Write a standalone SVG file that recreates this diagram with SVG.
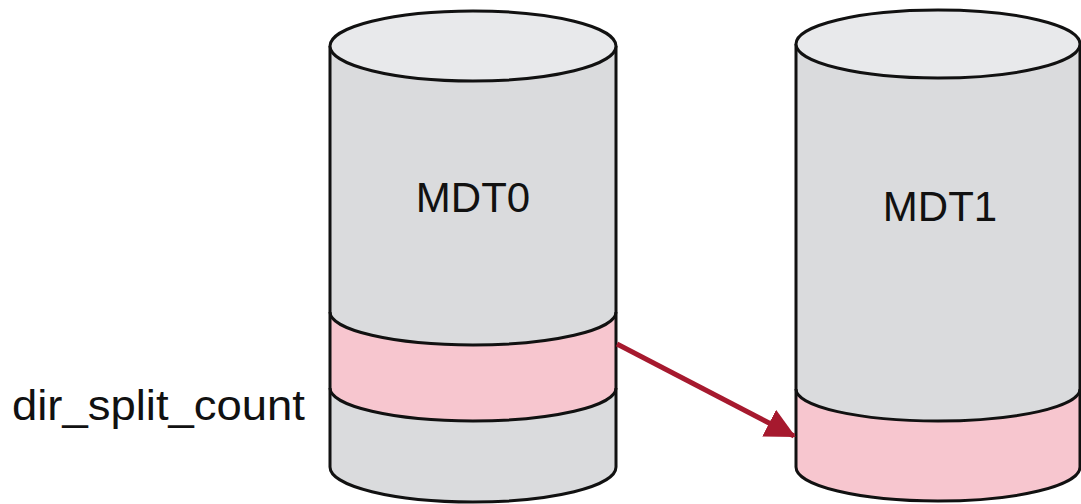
<svg xmlns="http://www.w3.org/2000/svg" width="1081" height="504" viewBox="0 0 1081 504">
  <style>
    .side { fill: #dadbdd; stroke: none; }
    .top { fill: #e8e9eb; stroke: #111; stroke-width: 3; }
    .band { fill: #f7c6cf; stroke: none; }
    .edge { fill: none; stroke: #111; stroke-width: 3; }
    .lbl { font-family: "Liberation Sans", Arial, sans-serif; fill: #111; }
    .link { stroke: #a6192e; stroke-width: 5; fill: none; }
  </style>
  <defs>
    <marker id="head" markerWidth="6" markerHeight="6" refX="5.6" refY="3" orient="auto" markerUnits="strokeWidth">
      <path d="M0,0 L6,3 L0,6 Z" fill="#a6192e"/>
    </marker>
  </defs>

  <!-- MDT0 cylinder -->
  <g id="mdt0">
    <path class="side" d="M330,46 L330,467 A143,35 0 0 0 616,467 L616,46 Z"/>
    <path class="band" d="M330,312 A143,33 0 0 0 616,312 L616,388 A143,33 0 0 1 330,388 Z"/>
    <path class="edge" d="M616,312 A143,33 0 0 1 330,312"/>
    <path class="edge" d="M616,388 A143,33 0 0 1 330,388"/>
    <path class="edge" d="M330,46 L330,467 A143,35 0 0 0 616,467 L616,46"/>
    <ellipse class="top" cx="473" cy="46" rx="143" ry="35"/>
    <text class="lbl" x="473" y="212" font-size="42" text-anchor="middle">MDT0</text>
  </g>

  <!-- MDT1 cylinder -->
  <g id="mdt1">
    <path class="side" d="M796,44 L796,467 A142,34 0 0 0 1080,467 L1080,44 Z"/>
    <path class="band" d="M796,389 A142,32 0 0 0 1080,389 L1080,467 A142,34 0 0 1 796,467 Z"/>
    <path class="edge" d="M1080,389 A142,32 0 0 1 796,389"/>
    <path class="edge" d="M796,44 L796,467 A142,34 0 0 0 1080,467 L1080,44"/>
    <ellipse class="top" cx="938" cy="44" rx="142" ry="34"/>
    <text class="lbl" x="940" y="221" font-size="42" text-anchor="middle">MDT1</text>
  </g>

  <!-- field label -->
  <g id="label-dir-split-count">
    <text class="lbl" x="12" y="420" font-size="42" textLength="293" lengthAdjust="spacingAndGlyphs">dir_split_count</text>
  </g>

  <!-- connectors -->
  <g id="connectors">
    <line class="link" x1="617" y1="344" x2="794" y2="436" marker-end="url(#head)"/>
  </g>
</svg>
